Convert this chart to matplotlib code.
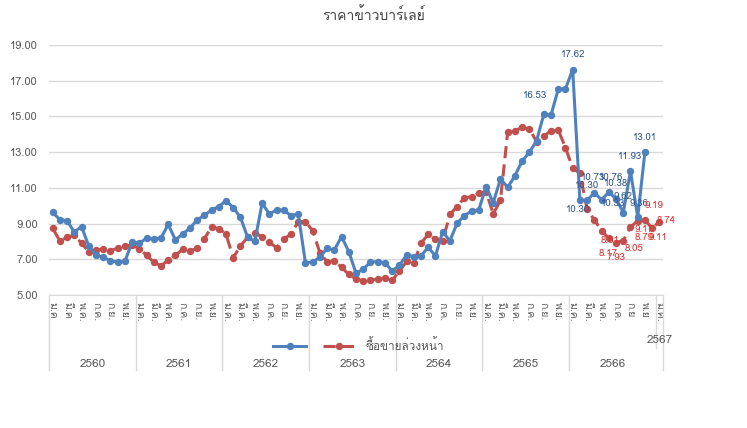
import numpy as np
import matplotlib
matplotlib.use("Agg")
import matplotlib.pyplot as plt
from matplotlib import font_manager
from matplotlib.ft2font import FT2Font

# look for any installed family that has Thai glyphs
thai_family = None
for f in font_manager.fontManager.ttflist:
    try:
        if 0x0E23 in FT2Font(f.fname).get_charmap():
            thai_family = f.name
            break
    except Exception:
        continue
plt.rcParams['font.family'] = ([thai_family] if thai_family else []) + ['DejaVu Sans']

years = ['2560', '2561', '2562', '2563', '2564', '2565', '2566', '2567']
month_ticks = (
    ['ม.ค', '', 'มี.ค', '', 'พ.ค.', '', 'ก.ค.', '', 'ก.ย.', '', 'พ.ย.', ''] +
    ['ม.ค.', '', 'มี.ค.', '', 'พ.ค.', '', 'ก.ค.', '', 'ก.ย.', '', 'พ.ย.', ''] * 5 +
    ['ม.ค.', '', 'มี.ค.', '', 'พ.ค.', '', 'ก.ค.', '', 'ก.ย', '', 'พ.ย', ''] +
    ['ม.ค.']
)

# monthly price (blue) Jan 2560 - Nov 2566
price = [9.63, 9.22, 9.16, 8.53, 8.83, 7.75, 7.24, 7.11, 6.92, 6.85, 6.88, 7.95,
         7.90, 8.18, 8.16, 8.18, 8.95, 8.08, 8.42, 8.74, 9.20, 9.46, 9.76, 9.95,
         10.28, 9.90, 9.35, 8.23, 8.00, 10.14, 9.54, 9.76, 9.76, 9.44, 9.55, 6.81,
         6.85, 7.11, 7.62, 7.52, 8.27, 7.43, 6.22, 6.44, 6.85, 6.87, 6.81, 6.35,
         6.66, 7.24, 7.15, 7.20, 7.67, 7.19, 8.55, 8.03, 9.02, 9.44, 9.70, 9.76,
         11.07, 10.17, 11.50, 11.03, 11.68, 12.50, 12.99, 13.64, 15.12, 15.08, 16.53, 16.55,
         17.62, 10.30, 10.30, 10.73, 10.33, 10.76, 10.38, 9.62, 11.93, 9.36, 13.01,
         np.nan, np.nan]

# futures price (red) Jan 2560 - Jan 2567
futures = [8.74, 8.03, 8.23, 8.36, 7.90, 7.43, 7.52, 7.56, 7.48, 7.62, 7.76, 7.78,
           7.60, 7.22, 6.85, 6.63, 6.96, 7.22, 7.56, 7.45, 7.63, 8.16, 8.79, 8.72,
           8.42, 7.08, 7.75, 8.23, 8.49, 8.23, 7.95, 7.65, 8.14, 8.40, 9.11, 9.11,
           8.60, 7.37, 6.85, 6.92, 6.55, 6.15, 5.90, 5.80, 5.85, 5.87, 5.95, 5.82,
           6.33, 6.88, 6.78, 7.90, 8.40, 8.12, 8.03, 9.52, 9.95, 10.45, 10.50, 10.70,
           10.79, 9.54, 10.32, 14.13, 14.20, 14.39, 14.30, 13.59, 13.90, 14.20, 14.24, 13.25,
           12.10, 11.82, 9.80, 9.20, 8.61, 8.17, 7.93, 8.05, 8.79, 9.17, 9.19, 8.74,
           9.11]

# data labels: index, offset in pixels (dx, dy)
price_labels = {70: (-23, 6), 72: (0, -15), 73: (-2, 9), 74: (0, -15), 75: (-1, -15),
                76: (11, 4), 77: (2, -15), 78: (0, -15), 79: (0, -16), 80: (0, -15),
                81: (1, -14), 82: (0, -14)}
futures_labels = {76: (8, 10), 77: (-1, 15), 78: (0, 15), 79: (11, 8), 80: (14, 10),
                  81: (6, 9), 82: (9, -15), 83: (14, -8), 84: (-1, 16)}

blue = '#4F81BD'
red = '#C0504D'
grey = '#595959'

fig = plt.figure(figsize=(7.47, 4.28), dpi=100)
ax = fig.add_axes([49 / 747, 1 - 295 / 428, 614 / 747, 250 / 428])

x = np.arange(len(month_ticks))
l1, = ax.plot(x, price, color=blue, lw=2.2, marker='o', ms=4.3, zorder=3)
l2, = ax.plot(x, futures, color=red, lw=2.2, ls=(0, (4, 2)), marker='o', ms=4.3, zorder=2)

for i, (dx, dy) in price_labels.items():
    ax.annotate(f'{price[i]:.2f}', (x[i], price[i]), xytext=(dx * 0.72, -dy * 0.72),
                textcoords='offset points', ha='center', va='center', fontsize=7,
                color='#2E548A', annotation_clip=False, zorder=5)
for i, (dx, dy) in futures_labels.items():
    ax.annotate(f'{futures[i]:.2f}', (x[i], futures[i]), xytext=(dx * 0.72, -dy * 0.72),
                textcoords='offset points', ha='center', va='center', fontsize=7,
                color='#E0302E', annotation_clip=False, zorder=5)

ax.set_xlim(-0.5, len(month_ticks) - 0.5)
ax.set_ylim(5, 19)
ax.set_yticks(np.arange(5, 20, 2))
ax.set_yticklabels([f'{v:.2f}' for v in np.arange(5, 20, 2)])
ax.grid(axis='y', color='#D9D9D9', lw=1)
ax.set_axisbelow(True)
for s in ['top', 'right', 'left']:
    ax.spines[s].set_visible(False)
ax.spines['bottom'].set_color('#D9D9D9')
ax.tick_params(axis='y', length=0, labelsize=8, labelcolor=grey, pad=8)

ax.set_xticks(x)
ax.set_xticklabels(month_ticks, rotation=-90, fontsize=7.5, color=grey)
ax.tick_params(axis='x', length=0, pad=5)

# year groups under the month labels
trans = ax.get_xaxis_transform()
bounds = [-0.5 + 12 * k for k in range(8)] + [len(month_ticks) - 0.5]
for k, b in enumerate(bounds):
    low = -0.21 if k == 7 else -0.30
    ax.plot([b, b], [0, low], transform=trans, color='#D9D9D9', lw=1, clip_on=False)
for k, yr in enumerate(years):
    if k < 7:
        ax.text(bounds[k] + 6, -0.276, yr, transform=trans, ha='center', va='center',
                fontsize=8.5, color=grey)
    else:
        ax.text(bounds[k] + 0.6, -0.18, yr, transform=trans, ha='center', va='center',
                fontsize=8.5, color=grey)

fig.legend([l1, l2], ['', 'ซื้อขายล่วงหน้า'], loc='center', bbox_to_anchor=(0.48, 0.194),
           ncol=2, frameon=False, fontsize=8.5, handlelength=2.8, columnspacing=0.6,
           labelcolor=grey)

fig.text(0.5, 1 - 15 / 428, 'ราคาข้าวบาร์เลย์', ha='center', va='center', fontsize=10,
         color='#404040')

fig.savefig('out.png', dpi=100)
